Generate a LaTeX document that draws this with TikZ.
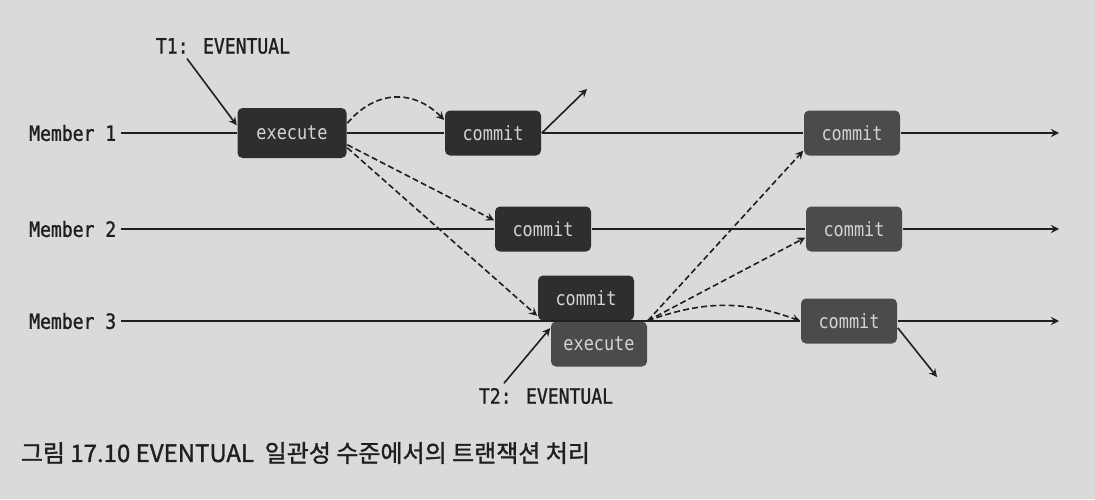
\documentclass[tikz,border=0pt]{standalone}
\usepackage{fontspec}
\setmonofont[FakeStretch=0.86]{DejaVu Sans Mono}
\newfontfamily\lblfont[FakeStretch=0.86,FakeBold=1.2]{DejaVu Sans Mono}
\newfontfamily\krfont[FakeBold=1.3]{Noto Sans CJK KR}
\usetikzlibrary{arrows}
\definecolor{paper}{HTML}{DADAD8}
\definecolor{darkbox}{HTML}{2E2E2E}
\definecolor{graybox}{HTML}{4B4B4B}
\definecolor{boxtext}{HTML}{D4D4D4}
\definecolor{ink}{HTML}{1F1F1F}

\begin{document}
\begin{tikzpicture}[x=0.5pt,y=-0.5pt,thick,>=stealth,draw=ink,
    lbl/.style={font=\lblfont\fontsize{10.5}{12}\selectfont, text=ink, inner sep=2pt},
    box/.style={rounded corners=2.5pt, fill=darkbox, text=boxtext, inner sep=0pt,
      font=\ttfamily\fontsize{9.8}{12}\selectfont, minimum width=48pt, minimum height=22.5pt},
    late/.style={box, fill=graybox},
    flow/.style={->, dash pattern=on 3pt off 1.6pt}]
  \fill[paper] (0,0) rectangle (1095,499);

  \node[lbl, anchor=east](m1) at (121,133){Member 1};
  \node[lbl, anchor=east](m2) at (121,229){Member 2};
  \node[lbl, anchor=east](m3) at (121,321){Member 3};
  \node[lbl](t1) at (223,46){T1: EVENTUAL};
  \node[lbl](t2) at (546,396){T2: EVENTUAL};

  \node[box, minimum width=54.5pt, minimum height=25pt](exe1) at (292,133){execute};
  \node[box](c1a) at (493,133){commit};
  \node[box](c2a) at (543,229){commit};
  \node[box](c3a) at (586,298){commit};
  \node[late](x3) at (599,344){execute};
  \node[late](c1b) at (852,133){commit};
  \node[late](c2b) at (854,229){commit};
  \node[late](c3b) at (849,321){commit};

  \coordinate (e1) at (1059,133);
  \coordinate (e2) at (1059,229);
  \coordinate (e3) at (1059,321);
  \coordinate (up1) at (587,89);
  \coordinate (dn3) at (937,377);

  \path
  (m1) edge (exe1)
  (exe1) edge (c1a)
  (c1a) edge (c1b)
  (c1b) edge[->] (e1)
  (m2) edge (c2a)
  (c2a) edge (c2b)
  (c2b) edge[->] (e2)
  (m3) edge (c3b)
  (c3b) edge[->] (e3)

  ([xshift=-18pt]t1.south) edge[->] (exe1.172)
  ([xshift=-21pt]t2.north) edge[->] (x3.162)
  (c1a.east) edge[->] (up1)
  (c3b.-8) edge[->] (dn3)

  (exe1.10) edge[flow, out=50, in=135, looseness=1.15] (c1a.165)
  (exe1.-12) edge[flow] (c2a.170)
  (exe1.-15) edge[flow] (c3a.200)

  (x3.north east) edge[flow] (c1b.200)
  (x3.north east) edge[flow] (c2b.190)
  (x3.north east) edge[flow, bend left=20] (c3b.west)
  ;

  \node[anchor=west, font=\krfont\fontsize{12}{14}\selectfont, text=ink, inner sep=0pt](cap) at (20,453)
    {그림 17.10 EVENTUAL\ \ 일관성 수준에서의 트랜잭션 처리};
\end{tikzpicture}
\end{document}
